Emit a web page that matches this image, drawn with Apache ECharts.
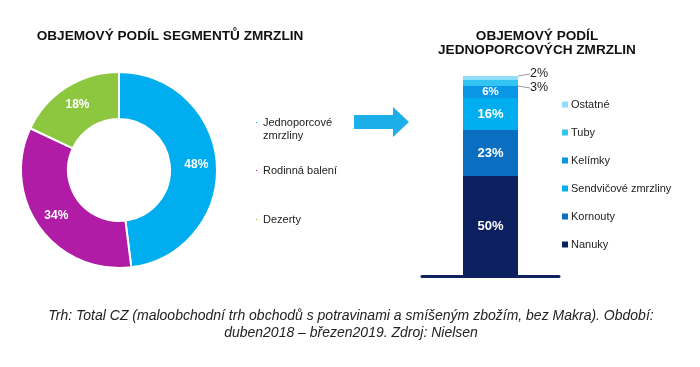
<!DOCTYPE html>
<html><head><meta charset="utf-8">
<script src="https://cdn.jsdelivr.net/npm/echarts@6/dist/echarts.min.js"></script>
<style>html,body{margin:0;padding:0;background:#fff}#c{width:700px;height:367px}</style>
</head><body><div id="c"></div>
<script>
// Left donut
const pieNames = ['Jednoporcové zmrzliny', 'Rodinná balení', 'Dezerty'];
const pieValues = [48, 34, 18];
const pieColors = ['#00AEEF', '#B01CA6', '#8DC63F'];
// Right stacked bar
const barNames = ['Nanuky', 'Kornouty', 'Sendvičové zmrzliny', 'Kelímky', 'Tuby', 'Ostatné'];
const barValues = [50, 23, 16, 6, 3, 2];
const barColors = ['#0C1F5E', '#0A6FC0', '#00AEEF', '#0996E6', '#33C4F3', '#8FDDF8'];
const titleLeft = 'OBJEMOVÝ PODÍL SEGMENTŮ ZMRZLIN';
const titleRight = 'OBJEMOVÝ PODÍL\nJEDNOPORCOVÝCH ZMRZLIN';
const footer = 'Trh: Total CZ (maloobchodní trh obchodů s potravinami a smíšeným zbožím, bez Makra). Období:\nduben2018 – březen2019. Zdroj: Nielsen';

const FONT = 'Liberation Sans, Arial, sans-serif';
const chart = echarts.init(document.getElementById('c'), null, {renderer: 'canvas'});

const barSeries = barNames.map((n, i) => {
  const s = {
    name: n, type: 'bar', stack: 'a', barWidth: 55,
    xAxisIndex: 0, yAxisIndex: 0,
    data: [barValues[i]],
    itemStyle: {color: barColors[i]},
    label: {show: true, position: 'inside', color: '#fff', fontWeight: 'bold',
      fontFamily: FONT, fontSize: barValues[i] >= 10 ? 13 : 11.5, formatter: '{c}%'}
  };
  if (barValues[i] < 5) {
    s.label = {show: true, position: 'right', color: '#222', fontFamily: FONT, fontSize: 12.5,
      formatter: '{c}%', distance: 12};
    s.labelLine = {show: true, lineStyle: {color: '#999', width: 1}};
    s.labelLayout = barValues[i] === 2 ? {dx: 0, dy: -4} : {dx: 0, dy: 5};
  }
  return s;
});

const option = {
  animation: false,
  textStyle: {fontFamily: FONT},
  title: [
    {text: titleLeft, left: 165, top: 24, textAlign: 'center',
      textStyle: {fontFamily: FONT, fontSize: 13.6, fontWeight: 'bold', color: '#111'}},
    {text: titleRight, left: 532, top: 24, textAlign: 'center',
      textStyle: {fontFamily: FONT, fontSize: 13.6, fontWeight: 'bold', color: '#111', lineHeight: 14}},
    {text: footer, left: 346, top: 303, textAlign: 'center',
      textStyle: {fontFamily: FONT, fontSize: 14, fontWeight: 'normal', fontStyle: 'italic', color: '#222', lineHeight: 17}}
  ],
  legend: [
    {data: [pieNames[0]], left: 249, top: 98, icon: 'rect', itemWidth: 3, itemHeight: 3, itemGap: 0,
      selectedMode: false, formatter: () => '\nJednoporcové\nzmrzliny',
      textStyle: {fontFamily: FONT, fontSize: 11, color: '#222', lineHeight: 13}},
    {data: [pieNames[1]], left: 249, top: 160, icon: 'rect', itemWidth: 3, itemHeight: 3,
      selectedMode: false, textStyle: {fontFamily: FONT, fontSize: 11, color: '#222'}},
    {data: [pieNames[2]], left: 249, top: 209, icon: 'rect', itemWidth: 3, itemHeight: 3,
      selectedMode: false, textStyle: {fontFamily: FONT, fontSize: 11, color: '#222'}},
    {data: barNames.slice().reverse(), orient: 'vertical', left: 557, top: 94, icon: 'rect',
      itemWidth: 6, itemHeight: 6, itemGap: 17, selectedMode: false,
      textStyle: {fontFamily: FONT, fontSize: 11, color: '#222', padding: [0,0,0,-2]}}
  ],
  grid: {left: 422, width: 137, top: 76, bottom: 91},
  xAxis: {type: 'category', data: [''], axisLine: {show: true, lineStyle: {color: '#0F2160', width: 3}},
    axisTick: {show: false}, axisLabel: {show: false}},
  yAxis: {type: 'value', min: 0, max: 100, show: false, splitLine: {show: false}},
  series: [
    {type: 'pie', center: [119, 170], radius: [51, 98], startAngle: 90, clockwise: true,
      data: pieNames.map((n, i) => ({name: n, value: pieValues[i], itemStyle: {color: pieColors[i]}})),
      itemStyle: {borderColor: '#fff', borderWidth: 2},
      label: {show: true, position: 'inside', color: '#fff', fontWeight: 'bold', fontFamily: FONT,
        fontSize: 12, formatter: '{c}%'},
      labelLine: {show: false}}
  ].concat(barSeries),
  graphic: [
    {type: 'polygon', shape: {points: [[354,115],[393,115],[393,107],[409,122],[393,137],[393,129],[354,129]]},
      style: {fill: '#1BAEE9'}}
  ]
};
chart.setOption(option);
</script></body></html>
